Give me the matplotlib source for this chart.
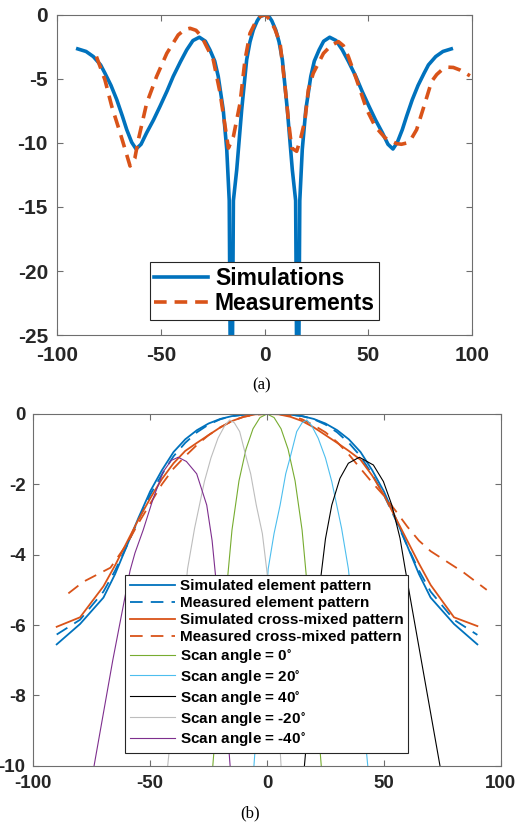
import matplotlib
matplotlib.use("Agg")
import matplotlib.pyplot as plt

# ---------------- (a) data ----------------
sim_x = [-90, -86, -82.5, -79, -76.9, -74, -71.2, -68.5, -66.4, -64, -61.9, -59.5, -56.8, -53.5,
         -50.4, -47, -44.0, -40.5, -37.5, -34.5, -31.4, -28.5, -26.3, -24, -22.3, -19.9, -18.2,
         -17, -16, -15, -13.4, -11.0, -8.6, -7, -5.4, -3.5, -2.2, 0,
         2.2, 3.5, 5.4, 7, 8.6, 11.0, 13.4, 15, 16, 17, 18.2, 19.9, 22.3, 24, 26.3, 28.5, 31.4,
         34.5, 37.5, 40.5, 44.0, 47, 50.4, 53.5, 56.8, 59.5, 61.9, 64, 66.4, 68.5, 71.2, 74,
         76.9, 79, 82.5, 86, 90]
sim_y = [-2.65, -2.85, -3.25, -3.9, -4.55, -5.5, -6.62, -7.9, -8.96, -9.95, -10.47, -10.1, -9.2, -8.2,
         -7.15, -5.95, -4.8, -3.65, -2.73, -2.0, -1.74, -2.05, -2.73, -3.6, -4.8, -7.4, -10.5,
         -14.5, -40, -14.5, -12.1, -7.4, -3.5, -2.1, -1.17, -0.45, -0.13, 0,
         -0.13, -0.45, -1.17, -2.1, -3.5, -7.4, -12.1, -14.5, -40, -14.5, -10.5, -7.4, -4.8, -3.6, -2.73, -2.05, -1.74,
         -2.0, -2.73, -3.65, -4.8, -5.95, -7.15, -8.2, -9.2, -10.1, -10.47, -9.95, -8.96, -7.9, -6.62, -5.5,
         -4.55, -3.9, -3.25, -2.85, -2.65]

meas_x = [-81, -76.9, -73.6, -69.6, -67, -64.8, -62.5, -60.8, -56.8, -52.0, -47.1, -41.6, -38.5, -35.9,
          -33, -30.3, -24.7, -21.4, -19.0, -17.4, -15.0, -11.8, -9.4, -7.0, -3.8, -1.5, 0.5,
          2.7, 5, 7.5, 9.9, 11.5, 13.1, 15.5, 17.5, 19.5, 21.1, 23.5, 28.4, 32, 35.6, 38, 40.4, 44.4,
          49.3, 53.3, 58.1, 63.7, 66, 68.5, 71, 73.3, 77.3, 80.5, 83, 85.4, 88.6, 91, 94.2, 99]
meas_y = [-3.25, -5.07, -7.15, -9.2, -10.6, -11.8, -11.2, -9.74, -6.9, -4.8, -3.0, -1.56, -1.15, -1.04,
          -1.2, -1.69, -3.5, -6.1, -8.7, -10.4, -9.5, -6.9, -3.5, -1.43, -0.39, -0.05, 0,
          -0.39, -1.1, -2.2, -5.6, -8.2, -10.4, -10.65, -9.6, -8.2, -5.85, -4.55, -3.0, -2.4, -2.08, -2.4, -3.25, -5.07,
          -7.4, -8.7, -9.6, -10.05, -10.1, -10.0, -9.6, -8.96, -6.9, -5.2, -4.65, -4.3, -4.08, -4.1, -4.3, -4.75]

# ---------------- (b) data ----------------
elem_x = [-90, -80, -70, -65, -60, -55, -50, -45, -40, -35, -30, -25, -20, -15, -10, -5, 0,
          5, 10, 15, 20, 25, 30, 35, 40, 45, 50, 55, 60, 65, 70, 80, 90]
sim_elem = [-6.55, -5.97, -5.22, -4.55, -3.75, -2.95, -2.2, -1.6, -1.08, -0.72, -0.46, -0.27, -0.14, -0.06, -0.02, 0, 0,
            0, -0.02, -0.06, -0.14, -0.27, -0.46, -0.72, -1.08, -1.6, -2.2, -2.95, -3.75, -4.55, -5.22, -5.97, -6.55]
meas_elem = [-6.27, -5.85, -5.05, -4.45, -3.75, -3.0, -2.3, -1.72, -1.2, -0.82, -0.52, -0.3, -0.15, -0.06, -0.02, 0, 0,
             0, -0.02, -0.06, -0.15, -0.3, -0.52, -0.82, -1.2, -1.72, -2.3, -3.0, -3.75, -4.45, -5.05, -5.85, -6.28]
sim_cross = [-6.05, -5.78, -4.9, -4.3, -3.65, -3.0, -2.4, -1.85, -1.4, -1.05, -0.82, -0.6, -0.38, -0.2, -0.08, -0.01, 0,
             -0.01, -0.08, -0.2, -0.38, -0.6, -0.82, -1.05, -1.3, -1.75, -2.3, -2.95, -3.6, -4.25, -4.86, -5.78, -6.03]

mcross_x = [-85, -78.6, -67, -60, -55, -50, -45, -40, -35, -30, -25, -20, -15, -10, -5, 0,
            5, 10, 15, 20, 25, 30, 35, 40, 45, 50, 55, 60, 65, 70, 77, 84, 94]
mcross_y = [-5.1, -4.77, -4.37, -3.7, -3.1, -2.55, -2.0, -1.55, -1.2, -0.88, -0.6, -0.38, -0.2, -0.08, -0.02, 0,
            0, -0.05, -0.15, -0.32, -0.52, -0.8, -1.15, -1.55, -1.95, -2.32, -2.75, -3.2, -3.6, -3.9, -4.2, -4.5, -5.0]

scan0_x = [-25, -23.2, -21, -19, -17, -15, -12, -9, -6, -3, 0, 3, 6, 9, 12, 15, 17, 19, 21, 23.2, 25]
scan0_y = [-11.5, -10, -8.15, -6.45, -4.75, -3.3, -1.9, -1.0, -0.42, -0.1, 0,
           -0.1, -0.42, -1.0, -1.9, -3.3, -4.75, -6.45, -8.15, -10, -11.5]

scan20_x = [-7, -5.6, -2.5, 0.5, 3, 5.6, 8, 9.8, 12.7, 15, 17, 19, 21.9, 25, 27.7, 31.9, 34.8, 38, 43.1, 45]
scan20_y = [-11.3, -10, -7.1, -4.4, -3.4, -2.59, -1.7, -1.26, -0.5, -0.25, -0.17, -0.32, -0.69, -1.25, -1.92,
            -3.25, -4.4, -6.4, -10, -11.3]

scan40_x = [14.5, 16, 20, 23, 25, 27.7, 31.2, 34.8, 39.5, 45.5, 49.8, 53.4, 56.9, 59.1, 62, 66, 74, 76]
scan40_y = [-11, -10, -7.0, -4.65, -3.55, -2.59, -1.83, -1.4, -1.23, -1.45, -1.92, -2.59, -3.53, -4.4,
            -5.5, -7.0, -10, -10.8]

scanm20_x = [-44, -42.5, -37, -34, -31, -26.8, -24, -21, -18, -16, -14, -11.7, -8.8, -7, -4.6, -2, 0, 3.5, 6.0, 7.5]
scanm20_y = [-11.3, -10, -6.4, -4.4, -3.25, -1.92, -1.25, -0.69, -0.32, -0.17, -0.25, -0.5, -1.26, -1.7,
             -2.59, -3.4, -4.5, -7.1, -10, -11.3]

scanm40_x = [-76, -74, -66, -58.6, -56.5, -53, -48.7, -44.4, -41, -38, -34.5, -30.1, -25.8, -23.5, -21,
             -18.5, -15.8, -14.5]
scanm40_y = [-10.8, -10, -7.0, -4.45, -3.95, -3.3, -2.4, -1.64, -1.32, -1.23, -1.35, -1.7, -2.59, -3.6, -5.3,
             -7.6, -10, -11]

# ---------------- styling ----------------
blue = '#0072BD'
orange = '#D95319'
txt = '#262626'
plt.rcParams['font.family'] = ['Liberation Sans', 'DejaVu Sans']
plt.rcParams['font.weight'] = 'bold'
plt.rcParams['mathtext.default'] = 'regular'
plt.rcParams['axes.unicode_minus'] = False


def style_axes(ax, size, xpad, ypad):
    for s in ax.spines.values():
        s.set_color('#6e6e6e')
        s.set_linewidth(0.8)
    ax.tick_params(direction='in', top=True, right=True, length=4, width=0.8,
                   color='#6e6e6e', labelcolor=txt, labelsize=size)
    ax.tick_params(axis='x', pad=xpad)
    ax.tick_params(axis='y', pad=ypad)
    for lab in ax.get_xticklabels() + ax.get_yticklabels():
        lab.set_fontweight('bold')


fig = plt.figure(figsize=(5.24, 8.27), dpi=100)

# ---- (a)
ax1 = fig.add_axes([0.1088, 0.5949, 0.792, 0.387])
ax1.plot(sim_x, sim_y, color=blue, lw=2.6, label='Simulations')
ax1.plot(meas_x, meas_y, color=orange, lw=2.6, ls=(0, (3.5, 2.2)), label='Measurements')
ax1.set_xlim(-100, 100)
ax1.set_ylim(-25, 0)
ax1.set_xticks([-100, -50, 0, 50, 100])
ax1.set_yticks([-25, -20, -15, -10, -5, 0])
style_axes(ax1, 15, 8, 6.5)
leg1 = ax1.legend(loc='lower center', bbox_to_anchor=(0.5, 0.047), fancybox=False, framealpha=1,
                  edgecolor=txt, prop={'size': 16.5, 'weight': 'bold'}, handlelength=2.35,
                  handletextpad=0.3, borderpad=0.2, labelspacing=0.12, borderaxespad=0)
leg1.get_frame().set_linewidth(0.8)
fig.text(0.5, 0.534, '(a)', ha='center', va='center', family='Liberation Serif',
         fontweight='normal', fontsize=12)

# ---- (b)
ax2 = fig.add_axes([0.0636, 0.0741, 0.892, 0.4253])
ax2.plot(elem_x, sim_elem, color=blue, lw=1.3, label='Simulated element pattern')
ax2.plot(elem_x, meas_elem, color=blue, lw=1.3, ls=(0, (7, 4.5)), label='Measured element pattern')
ax2.plot(elem_x, sim_cross, color=orange, lw=1.3, label='Simulated cross-mixed pattern')
ax2.plot(mcross_x, mcross_y, color=orange, lw=1.3, ls=(0, (7, 4.5)), label='Measured cross-mixed pattern')
ax2.plot(scan0_x, scan0_y, color='#77AC30', lw=0.8, label=r'Scan angle = 0$^{\circ}$')
ax2.plot(scan20_x, scan20_y, color='#4DBEEE', lw=0.8, label=r'Scan angle = 20$^{\circ}$')
ax2.plot(scan40_x, scan40_y, color='black', lw=0.8, label=r'Scan angle = 40$^{\circ}$')
ax2.plot(scanm20_x, scanm20_y, color='#BDBDBD', lw=0.8, label=r'Scan angle = -20$^{\circ}$')
ax2.plot(scanm40_x, scanm40_y, color='#7E2F8E', lw=0.8, label=r'Scan angle = -40$^{\circ}$')
ax2.set_xlim(-100, 100)
ax2.set_ylim(-10, 0)
ax2.set_xticks([-100, -50, 0, 50, 100])
ax2.set_yticks([-10, -8, -6, -4, -2, 0])
style_axes(ax2, 13.5, 7, 5.5)
leg2 = ax2.legend(loc='lower left', bbox_to_anchor=(0.196, 0.036), fancybox=False, framealpha=1,
                  edgecolor=txt, prop={'size': 11, 'weight': 'bold'}, handlelength=3.0,
                  handletextpad=0.3, borderpad=0.3, labelspacing=0.19, borderaxespad=0)
leg2.get_frame().set_linewidth(0.8)
fig.text(0.477, 0.016, '(b)', ha='center', va='center', family='Liberation Serif',
         fontweight='normal', fontsize=12)

fig.savefig('out.png', dpi=100)
